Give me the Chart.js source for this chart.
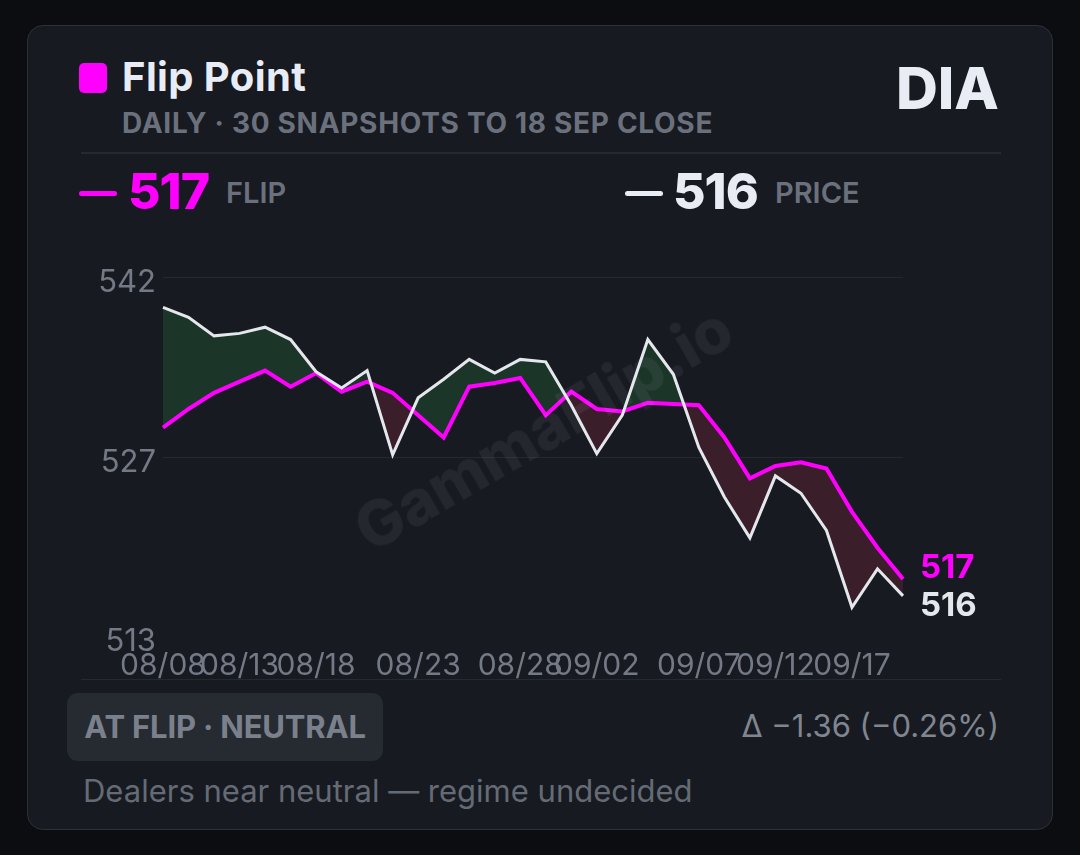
<!DOCTYPE html>
<html lang="en">
<head>
    <meta charset="UTF-8">
    <title>DIA - Flip Point</title>
    <script src="https://cdn.jsdelivr.net/npm/chart.js"></script>
    <style>
        html, body {
            margin: 0;
            padding: 0;
            width: 1080px;
            height: 855px;
            background: #0b0d10;
            font-family: 'Inter', 'Noto Sans', sans-serif;
            overflow: hidden;
        }
        .card {
            position: absolute;
            left: 27px;
            top: 25px;
            width: 1024px;
            height: 803px;
            background: #171a21;
            border: 1px solid #2c3038;
            border-radius: 16px;
        }
        .abs { position: absolute; white-space: nowrap; }
        .swatch {
            left: 51px; top: 37px;
            width: 28px; height: 30px;
            background: #ff00ff;
            border-radius: 5px;
        }
        .title {
            left: 94px; top: 26px;
            font-size: 40px; font-weight: 700;
            color: #e8ecf4;
            letter-spacing: 0.4px;
        }
        .subtitle {
            left: 94px; top: 80px;
            font-size: 28px; font-weight: 700;
            color: #6b717c;
            letter-spacing: 0.7px;
        }
        .ticker {
            right: 53px; top: 27px;
            font-size: 58px; font-weight: 800;
            color: #e8ecf4;
        }
        .rule {
            left: 53px; width: 920px; height: 2px;
            background: #252930;
        }
        .dash {
            width: 38px; height: 5px; border-radius: 3px;
        }
        .bigval {
            font-size: 50px; font-weight: 800;
            letter-spacing: -1px;
        }
        .vallabel {
            font-size: 29px; font-weight: 600;
            color: #6b717c;
        }
        .chart-wrap {
            position: absolute;
            left: 53px; top: 226px;
            width: 920px; height: 429px;
        }
        .watermark {
            left: 515px; top: 402px;
            transform: translate(-50%, -50%) rotate(-30deg);
            font-size: 62px; font-weight: 800;
            color: rgba(255, 255, 255, 0.055);
            pointer-events: none;
        }
        .badge {
            left: 39px; top: 667px;
            width: 316px; height: 68px;
            background: #262a31;
            border-radius: 11px;
            font-size: 31px; font-weight: 700;
            color: #7b818c;
            line-height: 68px;
            text-align: center;
            letter-spacing: -0.2px;
        }
        .delta {
            right: 53px; top: 681px;
            font-size: 31px;
            color: #80868f;
        }
        .footer {
            left: 55px; top: 746px;
            font-size: 31px;
            color: #656b75;
        }
    </style>
</head>
<body>
    <div class="card">
        <!-- Header -->
        <div class="abs swatch"></div>
        <div class="abs title">Flip Point</div>
        <div class="abs subtitle">DAILY · 30 SNAPSHOTS TO 18 SEP CLOSE</div>
        <div class="abs ticker">DIA</div>
        <div class="abs rule" style="top: 126px;"></div>

        <!-- Latest values -->
        <div class="abs dash" style="left: 51px; top: 165px; background: #ff00ff;"></div>
        <div class="abs bigval" id="flipVal" style="left: 100px; top: 135px; color: #ff00ff;"></div>
        <div class="abs vallabel" style="left: 198px; top: 149px;">FLIP</div>
        <div class="abs dash" style="left: 597px; top: 165px; background: #e8ecf4;"></div>
        <div class="abs bigval" id="priceVal" style="left: 645px; top: 135px; color: #e8ecf4;"></div>
        <div class="abs vallabel" style="left: 747px; top: 149px;">PRICE</div>

        <!-- Chart -->
        <div class="chart-wrap"><canvas id="flipChart"></canvas></div>
        <div class="abs watermark">GammaFlip.io</div>
        <div class="abs rule" style="top: 653px; height: 1px;"></div>

        <!-- Footer -->
        <div class="abs badge">AT FLIP · NEUTRAL</div>
        <div class="abs delta" id="deltaText"></div>
        <div class="abs footer">Dealers near neutral — regime undecided</div>
    </div>

    <script>
        // Data: 30 daily snapshots
        const xTickLabels = [
            "08/08", "", "", "08/13", "", "", "08/18", "", "", "",
            "08/23", "", "", "", "08/28", "", "", "09/02", "", "",
            "", "09/07", "", "", "09/12", "", "", "09/17", "", ""
        ];
        const flipLevels = [
            529.5, 531.0, 532.3, 533.2, 534.1, 532.8, 533.9, 532.4, 533.2, 532.3,
            530.5, 528.7, 532.8, 533.1, 533.5, 530.5, 532.4, 531.0, 530.8, 531.5,
            531.4, 531.3, 528.7, 525.4, 526.4, 526.7, 526.2, 522.7, 519.8, 517.28
        ];
        const priceLevels = [
            539.2, 538.4, 536.9, 537.1, 537.6, 536.6, 534.0, 532.7, 534.1, 527.3,
            531.9, 533.4, 535.0, 533.9, 535.0, 534.8, 531.3, 527.4, 530.5, 536.6,
            533.8, 527.9, 523.9, 520.6, 525.6, 524.2, 521.2, 515.0, 518.1, 515.92
        ];
        const yMin = 512.6;
        const yMax = 541.6;

        const MAGENTA = "#ff00ff";
        const WHITE = "#e4e7ec";

        // Header values
        const lastFlip = flipLevels[flipLevels.length - 1];
        const lastPrice = priceLevels[priceLevels.length - 1];
        document.getElementById("flipVal").textContent = Math.round(lastFlip);
        document.getElementById("priceVal").textContent = Math.round(lastPrice);
        const delta = lastPrice - lastFlip;
        const pct = delta / lastFlip * 100;
        const fmt = v => (v < 0 ? "\u2212" : "+") + Math.abs(v).toFixed(2);
        document.getElementById("deltaText").textContent = `Δ ${fmt(delta)} (${fmt(pct)}%)`;

        // End-of-line value labels, pushed apart when they collide
        const endLabels = {
            id: "endLabels",
            afterDatasetsDraw(chart) {
                const { ctx, chartArea, scales } = chart;
                let yf = scales.y.getPixelForValue(lastFlip);
                let yp = scales.y.getPixelForValue(lastPrice);
                const gap = 38;
                if (Math.abs(yf - yp) < gap) {
                    const mid = (yf + yp) / 2;
                    const sign = yf <= yp ? 1 : -1;
                    yf = mid - sign * gap / 2;
                    yp = mid + sign * gap / 2;
                }
                ctx.save();
                ctx.font = "700 33px Inter";
                ctx.textAlign = "left";
                ctx.textBaseline = "middle";
                ctx.fillStyle = MAGENTA;
                ctx.fillText(String(Math.round(lastFlip)), chartArea.right + 17, yf);
                ctx.fillStyle = WHITE;
                ctx.fillText(String(Math.round(lastPrice)), chartArea.right + 17, yp);
                ctx.restore();
            }
        };

        Chart.defaults.font.family = "Inter";

        new Chart(document.getElementById("flipChart"), {
            type: "line",
            data: {
                labels: xTickLabels,
                datasets: [
                    {
                        label: "Price",
                        data: priceLevels,
                        borderColor: WHITE,
                        borderWidth: 3,
                        pointRadius: 0,
                        tension: 0,
                        fill: { target: 1, above: "#1b3529", below: "#3a1f2a" }
                    },
                    {
                        label: "Flip",
                        data: flipLevels,
                        borderColor: MAGENTA,
                        borderWidth: 4,
                        pointRadius: 0,
                        tension: 0,
                        fill: false
                    }
                ]
            },
            options: {
                responsive: true,
                maintainAspectRatio: false,
                animation: false,
                layout: { padding: { top: 8, right: 98, bottom: 0, left: 0 } },
                plugins: {
                    legend: { display: false },
                    tooltip: { enabled: false },
                    filler: { drawTime: "beforeDatasetsDraw" }
                },
                scales: {
                    x: {
                        grid: { display: false },
                        border: { display: false },
                        afterFit: s => { s.height = 44; },
                        ticks: {
                            autoSkip: false,
                            maxRotation: 0,
                            padding: 3,
                            color: "#737985",
                            font: { size: 30 }
                        }
                    },
                    y: {
                        min: yMin,
                        max: yMax,
                        border: { display: false },
                        afterFit: s => { s.width = 82; },
                        afterBuildTicks: s => {
                            s.ticks = [yMin, (yMin + yMax) / 2, yMax].map(v => ({ value: v }));
                        },
                        grid: {
                            drawTicks: false,
                            color: c => c.tick && c.tick.value === yMin ? "transparent" : "#242830"
                        },
                        ticks: {
                            padding: 7,
                            labelOffset: 5,
                            color: "#737985",
                            font: { size: 31 },
                            callback: v => Math.round(v)
                        }
                    }
                }
            },
            plugins: [endLabels]
        });
    </script>
</body>
</html>
